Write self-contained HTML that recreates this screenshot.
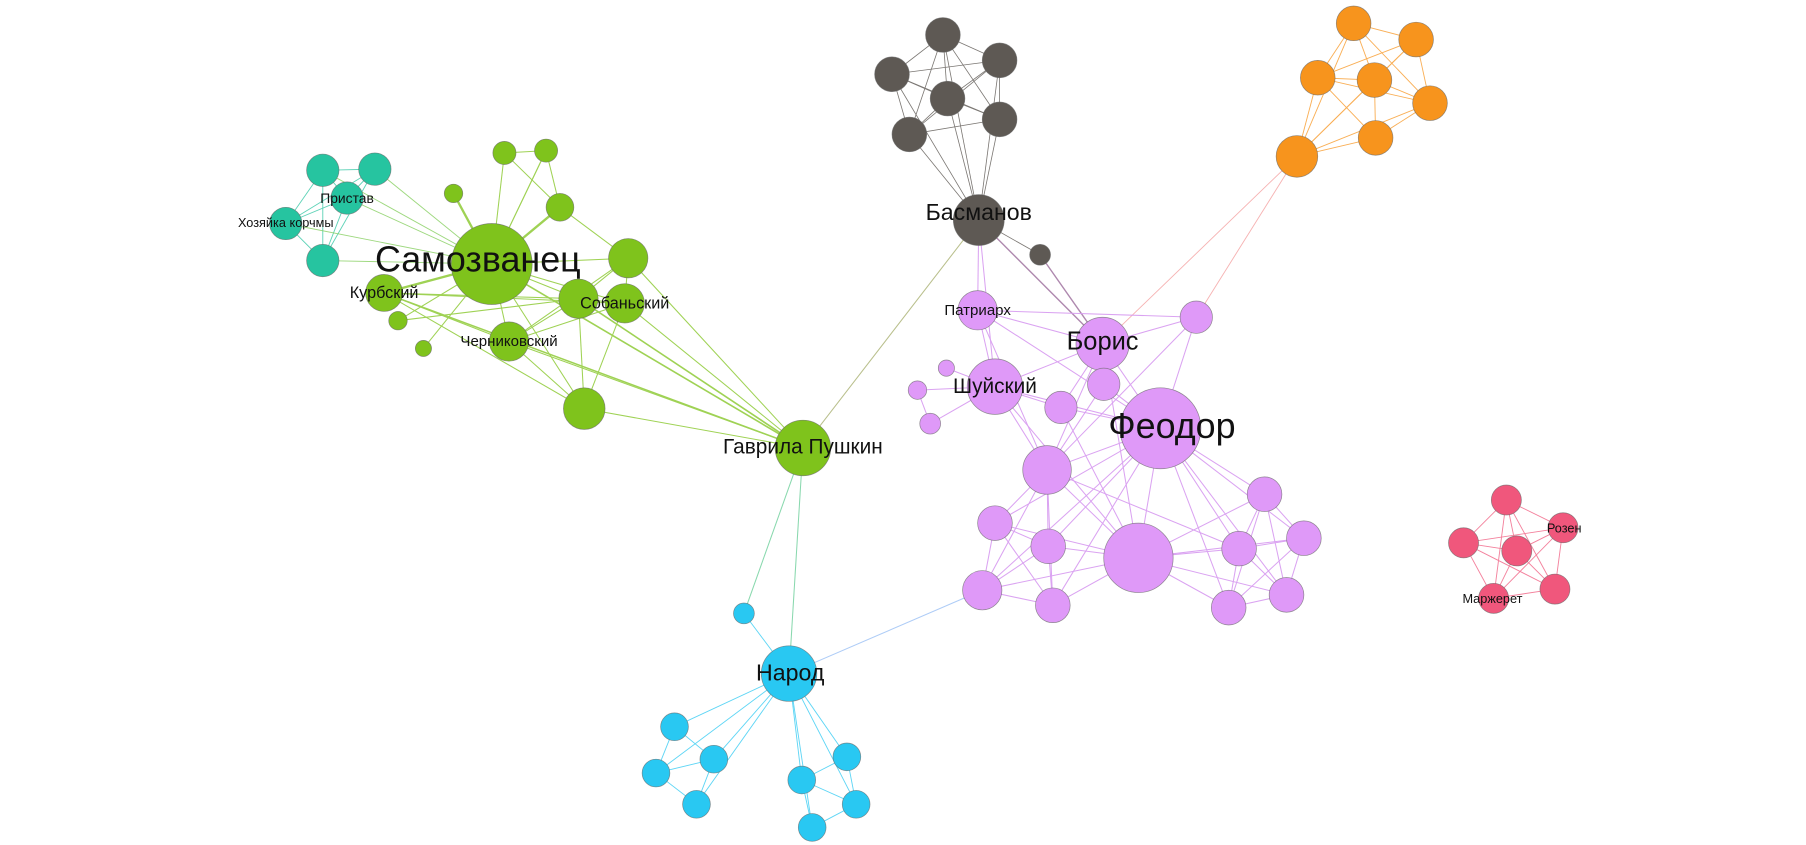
<!DOCTYPE html>
<html><head><meta charset="utf-8"><style>
html,body{margin:0;padding:0;background:#fff;}
svg{display:block}
text{font-family:"Liberation Sans","DejaVu Sans",sans-serif;fill:#111;text-anchor:middle;dominant-baseline:central}
.n circle{stroke:#666;stroke-width:0.6;stroke-opacity:.7}
</style></head><body>
<svg width="1806" height="845" viewBox="0 0 1561 730" xmlns="http://www.w3.org/2000/svg">
<g stroke="#5a5550" stroke-width="0.7" opacity="0.8">
<line x1="815" y1="30" x2="864" y2="52"/><line x1="815" y1="30" x2="771" y2="64"/><line x1="815" y1="30" x2="819" y2="85"/><line x1="815" y1="30" x2="864" y2="103"/><line x1="815" y1="30" x2="786" y2="116"/>
<line x1="864" y1="52" x2="771" y2="64"/><line x1="864" y1="52" x2="819" y2="85"/><line x1="864" y1="52" x2="864" y2="103"/><line x1="864" y1="52" x2="786" y2="116"/>
<line x1="771" y1="64" x2="819" y2="85"/><line x1="771" y1="64" x2="786" y2="116"/><line x1="771" y1="64" x2="864" y2="103"/>
<line x1="819" y1="85" x2="864" y2="103"/><line x1="819" y1="85" x2="786" y2="116"/><line x1="864" y1="103" x2="786" y2="116"/>
<line x1="846" y1="190" x2="815" y2="30"/><line x1="846" y1="190" x2="864" y2="52"/><line x1="846" y1="190" x2="771" y2="64"/><line x1="846" y1="190" x2="819" y2="85"/><line x1="846" y1="190" x2="864" y2="103"/><line x1="846" y1="190" x2="786" y2="116"/>
<line x1="846" y1="190" x2="899" y2="220"/>
</g>
<g stroke="#f7941d" stroke-width="0.8" opacity="0.75">
<line x1="1170" y1="20" x2="1224" y2="34"/><line x1="1170" y1="20" x2="1139" y2="67"/><line x1="1170" y1="20" x2="1188" y2="69"/><line x1="1170" y1="20" x2="1236" y2="89"/><line x1="1170" y1="20" x2="1121" y2="135"/>
<line x1="1224" y1="34" x2="1139" y2="67"/><line x1="1224" y1="34" x2="1188" y2="69"/><line x1="1224" y1="34" x2="1236" y2="89"/><line x1="1224" y1="34" x2="1121" y2="135"/>
<line x1="1139" y1="67" x2="1188" y2="69"/><line x1="1139" y1="67" x2="1189" y2="119"/><line x1="1139" y1="67" x2="1121" y2="135"/><line x1="1139" y1="67" x2="1236" y2="89"/>
<line x1="1188" y1="69" x2="1236" y2="89"/><line x1="1188" y1="69" x2="1189" y2="119"/><line x1="1188" y1="69" x2="1121" y2="135"/>
<line x1="1236" y1="89" x2="1189" y2="119"/><line x1="1236" y1="89" x2="1121" y2="135"/><line x1="1189" y1="119" x2="1121" y2="135"/>
</g>
<g stroke="#f4a0a0" stroke-width="0.8" opacity="0.8">
<line x1="1121" y1="135" x2="953" y2="297"/><line x1="1121" y1="135" x2="1034" y2="274"/>
</g>
<g stroke="#9a6b9a" stroke-width="1.2" opacity="0.8"><line x1="846" y1="190" x2="953" y2="297"/><line x1="899" y1="220" x2="953" y2="297"/></g>
<g stroke="#d79af0" stroke-width="0.9" opacity="0.9">
<line x1="846" y1="190" x2="845" y2="268"/><line x1="846" y1="190" x2="860" y2="334"/>
<line x1="845" y1="268" x2="953" y2="297"/><line x1="845" y1="268" x2="1034" y2="274"/><line x1="845" y1="268" x2="860" y2="334"/><line x1="845" y1="268" x2="1003" y2="370"/><line x1="845" y1="268" x2="905" y2="406"/>
<line x1="953" y1="297" x2="1034" y2="274"/><line x1="953" y1="297" x2="860" y2="334"/><line x1="953" y1="297" x2="954" y2="332"/><line x1="953" y1="297" x2="1003" y2="370"/><line x1="953" y1="297" x2="917" y2="352"/><line x1="953" y1="297" x2="905" y2="406"/><line x1="953" y1="297" x2="984" y2="482"/>
<line x1="1034" y1="274" x2="1003" y2="370"/><line x1="1034" y1="274" x2="905" y2="406"/>
<line x1="860" y1="334" x2="818" y2="318"/><line x1="860" y1="334" x2="793" y2="337"/><line x1="860" y1="334" x2="804" y2="366"/><line x1="860" y1="334" x2="917" y2="352"/><line x1="860" y1="334" x2="1003" y2="370"/><line x1="860" y1="334" x2="905" y2="406"/><line x1="860" y1="334" x2="984" y2="482"/>
<line x1="793" y1="337" x2="804" y2="366"/>
<line x1="917" y1="352" x2="1003" y2="370"/><line x1="954" y1="332" x2="1003" y2="370"/><line x1="917" y1="352" x2="984" y2="482"/><line x1="954" y1="332" x2="905" y2="406"/>
<line x1="1003" y1="370" x2="905" y2="406"/><line x1="1003" y1="370" x2="1093" y2="427"/><line x1="1003" y1="370" x2="860" y2="452"/><line x1="1003" y1="370" x2="906" y2="472"/><line x1="1003" y1="370" x2="984" y2="482"/><line x1="1003" y1="370" x2="1071" y2="474"/><line x1="1003" y1="370" x2="1127" y2="465"/><line x1="1003" y1="370" x2="849" y2="510"/><line x1="1003" y1="370" x2="910" y2="523"/><line x1="1003" y1="370" x2="1062" y2="525"/><line x1="1003" y1="370" x2="1112" y2="514"/>
<line x1="905" y1="406" x2="860" y2="452"/><line x1="905" y1="406" x2="906" y2="472"/><line x1="905" y1="406" x2="984" y2="482"/><line x1="905" y1="406" x2="849" y2="510"/><line x1="905" y1="406" x2="910" y2="523"/><line x1="905" y1="406" x2="1071" y2="474"/>
<line x1="984" y1="482" x2="860" y2="452"/><line x1="984" y1="482" x2="906" y2="472"/><line x1="984" y1="482" x2="849" y2="510"/><line x1="984" y1="482" x2="910" y2="523"/><line x1="984" y1="482" x2="1071" y2="474"/><line x1="984" y1="482" x2="1093" y2="427"/><line x1="984" y1="482" x2="1062" y2="525"/><line x1="984" y1="482" x2="1112" y2="514"/><line x1="984" y1="482" x2="1127" y2="465"/>
<line x1="860" y1="452" x2="906" y2="472"/><line x1="860" y1="452" x2="849" y2="510"/><line x1="860" y1="452" x2="910" y2="523"/><line x1="906" y1="472" x2="849" y2="510"/><line x1="906" y1="472" x2="910" y2="523"/><line x1="849" y1="510" x2="910" y2="523"/>
<line x1="1093" y1="427" x2="1071" y2="474"/><line x1="1093" y1="427" x2="1127" y2="465"/><line x1="1093" y1="427" x2="1062" y2="525"/><line x1="1093" y1="427" x2="1112" y2="514"/>
<line x1="1071" y1="474" x2="1127" y2="465"/><line x1="1071" y1="474" x2="1062" y2="525"/><line x1="1071" y1="474" x2="1112" y2="514"/><line x1="1127" y1="465" x2="1112" y2="514"/><line x1="1127" y1="465" x2="1062" y2="525"/><line x1="1062" y1="525" x2="1112" y2="514"/>
</g>
<g stroke="#f0577c" stroke-width="0.8" opacity="0.75">
<line x1="1302" y1="432" x2="1351" y2="456"/><line x1="1302" y1="432" x2="1265" y2="469"/><line x1="1302" y1="432" x2="1311" y2="476"/><line x1="1302" y1="432" x2="1344" y2="509"/><line x1="1302" y1="432" x2="1291" y2="517"/>
<line x1="1351" y1="456" x2="1265" y2="469"/><line x1="1351" y1="456" x2="1311" y2="476"/><line x1="1351" y1="456" x2="1344" y2="509"/><line x1="1351" y1="456" x2="1291" y2="517"/>
<line x1="1265" y1="469" x2="1311" y2="476"/><line x1="1265" y1="469" x2="1291" y2="517"/><line x1="1265" y1="469" x2="1344" y2="509"/><line x1="1311" y1="476" x2="1344" y2="509"/><line x1="1311" y1="476" x2="1291" y2="517"/><line x1="1344" y1="509" x2="1291" y2="517"/>
</g>
<g stroke="#2ac4a0" stroke-width="0.8" opacity="0.75">
<line x1="279" y1="147" x2="324" y2="146"/><line x1="279" y1="147" x2="300" y2="171"/><line x1="279" y1="147" x2="247" y2="193"/><line x1="279" y1="147" x2="279" y2="225"/>
<line x1="324" y1="146" x2="300" y2="171"/><line x1="324" y1="146" x2="247" y2="193"/><line x1="324" y1="146" x2="279" y2="225"/>
<line x1="300" y1="171" x2="247" y2="193"/><line x1="300" y1="171" x2="279" y2="225"/><line x1="247" y1="193" x2="279" y2="225"/>
</g>
<g stroke="#86cf60" stroke-width="0.8" opacity="0.8">
<line x1="279" y1="147" x2="425" y2="228"/><line x1="324" y1="146" x2="425" y2="228"/><line x1="300" y1="171" x2="425" y2="228"/><line x1="247" y1="193" x2="425" y2="228"/><line x1="279" y1="225" x2="425" y2="228"/>
</g>
<g stroke="#7fc31c" stroke-width="0.9" opacity="0.75">
<line x1="425" y1="228" x2="436" y2="132"/><line x1="425" y1="228" x2="472" y2="130"/><line x1="425" y1="228" x2="392" y2="167" stroke-width="2"/><line x1="425" y1="228" x2="484" y2="179" stroke-width="2"/><line x1="425" y1="228" x2="543" y2="223"/><line x1="425" y1="228" x2="332" y2="253" stroke-width="2"/><line x1="425" y1="228" x2="500" y2="258"/><line x1="425" y1="228" x2="540" y2="262"/><line x1="425" y1="228" x2="344" y2="277"/><line x1="425" y1="228" x2="366" y2="301"/><line x1="425" y1="228" x2="440" y2="295"/><line x1="425" y1="228" x2="505" y2="353"/><line x1="425" y1="228" x2="694" y2="387" stroke-width="1.4"/>
<line x1="436" y1="132" x2="472" y2="130"/><line x1="436" y1="132" x2="484" y2="179"/><line x1="472" y1="130" x2="484" y2="179"/><line x1="484" y1="179" x2="543" y2="223"/><line x1="472" y1="130" x2="425" y2="228"/>
<line x1="332" y1="253" x2="500" y2="258"/><line x1="332" y1="253" x2="540" y2="262"/><line x1="332" y1="253" x2="440" y2="295"/><line x1="332" y1="253" x2="694" y2="387" stroke-width="1.3"/><line x1="332" y1="253" x2="505" y2="353"/>
<line x1="500" y1="258" x2="540" y2="262"/><line x1="500" y1="258" x2="440" y2="295"/><line x1="500" y1="258" x2="505" y2="353"/><line x1="500" y1="258" x2="694" y2="387" stroke-width="1.4"/><line x1="500" y1="258" x2="543" y2="223"/>
<line x1="540" y1="262" x2="440" y2="295"/><line x1="540" y1="262" x2="505" y2="353"/><line x1="540" y1="262" x2="694" y2="387"/><line x1="543" y1="223" x2="694" y2="387"/><line x1="543" y1="223" x2="540" y2="262"/><line x1="543" y1="223" x2="440" y2="295"/>
<line x1="440" y1="295" x2="505" y2="353"/><line x1="440" y1="295" x2="694" y2="387"/><line x1="505" y1="353" x2="694" y2="387"/><line x1="344" y1="277" x2="500" y2="258"/>
</g>
<g stroke-width="0.9" opacity="0.8">
<line x1="694" y1="387" x2="846" y2="190" stroke="#a8b070"/>
<line x1="694" y1="387" x2="682" y2="582" stroke="#6ccf9a"/>
<line x1="694" y1="387" x2="643" y2="530" stroke="#6ccf9a"/>
<line x1="682" y1="582" x2="849" y2="510" stroke="#9ac0f5"/>
</g>
<g stroke="#29c8f2" stroke-width="0.8" opacity="0.75">
<line x1="682" y1="582" x2="643" y2="530"/><line x1="682" y1="582" x2="583" y2="628"/><line x1="682" y1="582" x2="617" y2="656"/><line x1="682" y1="582" x2="567" y2="668"/><line x1="682" y1="582" x2="602" y2="695"/><line x1="682" y1="582" x2="732" y2="654"/><line x1="682" y1="582" x2="693" y2="674"/><line x1="682" y1="582" x2="740" y2="695"/><line x1="682" y1="582" x2="702" y2="715"/>
<line x1="583" y1="628" x2="617" y2="656"/><line x1="583" y1="628" x2="567" y2="668"/><line x1="617" y1="656" x2="567" y2="668"/><line x1="617" y1="656" x2="602" y2="695"/><line x1="567" y1="668" x2="602" y2="695"/>
<line x1="732" y1="654" x2="693" y2="674"/><line x1="732" y1="654" x2="740" y2="695"/><line x1="693" y1="674" x2="740" y2="695"/><line x1="693" y1="674" x2="702" y2="715"/><line x1="740" y1="695" x2="702" y2="715"/>
</g>
<g class="n" fill="#5e5954">
<circle cx="815" cy="30" r="15"/><circle cx="864" cy="52" r="15"/><circle cx="771" cy="64" r="15"/><circle cx="819" cy="85" r="15"/><circle cx="864" cy="103" r="15"/><circle cx="786" cy="116" r="15"/><circle cx="846" cy="190" r="22"/><circle cx="899" cy="220" r="9"/>
</g>
<g class="n" fill="#f7941d">
<circle cx="1170" cy="20" r="15"/><circle cx="1224" cy="34" r="15"/><circle cx="1139" cy="67" r="15"/><circle cx="1188" cy="69" r="15"/><circle cx="1236" cy="89" r="15"/><circle cx="1189" cy="119" r="15"/><circle cx="1121" cy="135" r="18"/>
</g>
<g class="n" fill="#26c4a0">
<circle cx="279" cy="147" r="14"/><circle cx="324" cy="146" r="14"/><circle cx="300" cy="171" r="14"/><circle cx="247" cy="193" r="14"/><circle cx="279" cy="225" r="14"/>
</g>
<g class="n" fill="#7fc31c">
<circle cx="425" cy="228" r="35"/><circle cx="436" cy="132" r="10"/><circle cx="472" cy="130" r="10"/><circle cx="392" cy="167" r="8"/><circle cx="484" cy="179" r="12"/><circle cx="543" cy="223" r="17"/><circle cx="332" cy="253" r="16"/><circle cx="500" cy="258" r="17"/><circle cx="540" cy="262" r="17"/><circle cx="344" cy="277" r="8"/><circle cx="366" cy="301" r="7"/><circle cx="440" cy="295" r="17"/><circle cx="505" cy="353" r="18"/><circle cx="694" cy="387" r="24"/>
</g>
<g class="n" fill="#29c8f2">
<circle cx="643" cy="530" r="9"/><circle cx="682" cy="582" r="24"/><circle cx="583" cy="628" r="12"/><circle cx="617" cy="656" r="12"/><circle cx="567" cy="668" r="12"/><circle cx="602" cy="695" r="12"/><circle cx="732" cy="654" r="12"/><circle cx="693" cy="674" r="12"/><circle cx="740" cy="695" r="12"/><circle cx="702" cy="715" r="12"/>
</g>
<g class="n" fill="#df99f8">
<circle cx="845" cy="268" r="17"/><circle cx="953" cy="297" r="23"/><circle cx="1034" cy="274" r="14"/><circle cx="818" cy="318" r="7"/><circle cx="793" cy="337" r="8"/><circle cx="860" cy="334" r="24"/><circle cx="954" cy="332" r="14"/><circle cx="917" cy="352" r="14"/><circle cx="804" cy="366" r="9"/><circle cx="1003" cy="370" r="35"/><circle cx="905" cy="406" r="21"/><circle cx="1093" cy="427" r="15"/><circle cx="860" cy="452" r="15"/><circle cx="906" cy="472" r="15"/><circle cx="984" cy="482" r="30"/><circle cx="1071" cy="474" r="15"/><circle cx="1127" cy="465" r="15"/><circle cx="849" cy="510" r="17"/><circle cx="910" cy="523" r="15"/><circle cx="1062" cy="525" r="15"/><circle cx="1112" cy="514" r="15"/>
</g>
<g class="n" fill="#f0577c">
<circle cx="1302" cy="432" r="13"/><circle cx="1351" cy="456" r="13"/><circle cx="1265" cy="469" r="13"/><circle cx="1311" cy="476" r="13"/><circle cx="1344" cy="509" r="13"/><circle cx="1291" cy="517" r="13"/>
</g>
<text x="413" y="224" font-size="31">Самозванец</text>
<text x="332" y="253" font-size="14">Курбский</text>
<text x="540" y="262" font-size="14">Собаньский</text>
<text x="440" y="295" font-size="13">Черниковский</text>
<text x="300" y="171" font-size="12">Пристав</text>
<text x="247" y="192" font-size="11">Хозяйка корчмы</text>
<text x="846" y="183" font-size="20">Басманов</text>
<text x="845" y="268" font-size="13">Патриарх</text>
<text x="953" y="295" font-size="22">Борис</text>
<text x="860" y="334" font-size="18">Шуйский</text>
<text x="1013" y="368" font-size="31">Феодор</text>
<text x="694" y="386" font-size="18">Гаврила Пушкин</text>
<text x="683" y="581" font-size="20">Народ</text>
<text x="1352" y="456" font-size="11">Розен</text>
<text x="1290" y="517" font-size="11">Маржерет</text>
</svg>
</body></html>
